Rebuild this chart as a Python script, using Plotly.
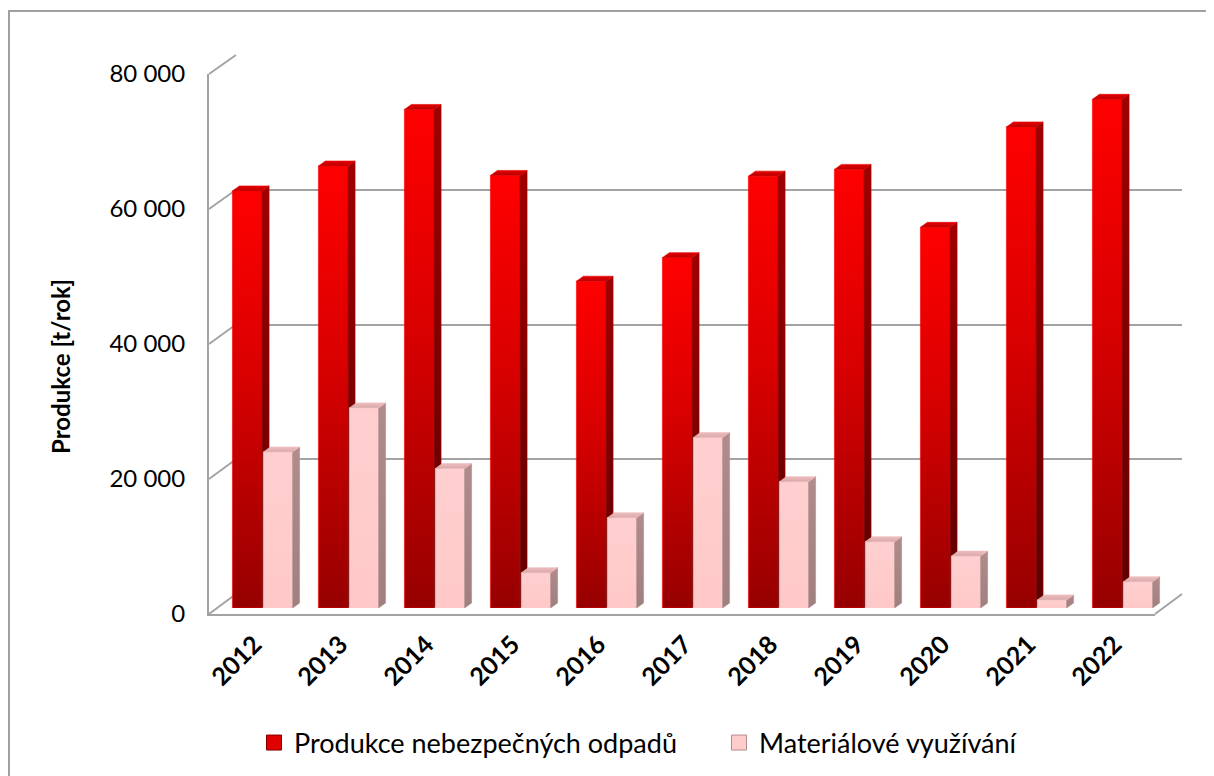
import plotly.graph_objects as go

# data
years = ["2012", "2013", "2014", "2015", "2016", "2017", "2018", "2019", "2020", "2021", "2022"]
produkce = [61900, 65600, 74000, 64200, 48500, 52000, 64100, 65100, 56500, 71400, 75500]
vyuzivani = [23150, 29700, 20700, 5250, 13400, 25300, 18750, 9850, 7700, 1200, 3900]
series_names = ["Produkce nebezpečných odpadů", "Materiálové využívání"]
y_ticks = [0, 20000, 40000, 60000, 80000]

W, H = 1214, 776
PAGE_PAD = 8  # default body margin of the html page
FONT = "Lato, 'Open Sans', sans-serif"
GRID = "#a3a3a3"


def px(x):
    return (x - PAGE_PAD) / W


def py(y):
    return 1 - (y - PAGE_PAD) / H


# pixel geometry of the fake 3D box
FRONT_L, FRONT_R, FRONT_0, FRONT_TOP = 209, 1155, 614, 74
BACK_L, BACK_R, BACK_0, BACK_TOP = 236, 1182, 594, 55
BAR_L, BAR_R, BAR_0, BAR_TOP = 219.5, 1165.5, 608, 69

cat_px = (BAR_R - BAR_L) / len(years)
val_px = (BAR_0 - BAR_TOP) / 80000
DX = 7 / cat_px   # side face depth in category units
DY = 5 / val_px   # side face rise in value units

fig = go.Figure()

# xy = back wall (drawn first), x2y2 = front axis, x3y3 = bars
fig.add_trace(go.Scatter(x=[None], y=[None], xaxis="x", yaxis="y", showlegend=False, hoverinfo="skip"))
fig.add_trace(go.Scatter(x=[None], y=[None], xaxis="x2", yaxis="y2", showlegend=False, hoverinfo="skip"))


def poly(xs, ys, scale):
    fig.add_trace(go.Scatter(
        x=xs, y=ys, xaxis="x3", yaxis="y3", mode="lines", fill="toself",
        line=dict(width=0.6, color=scale[-1][1]),
        fillgradient=dict(type="vertical", colorscale=scale),
        showlegend=False, hoverinfo="skip",
    ))


def bar3d(left, right, v, front, side, top):
    poly([left, right, right, left, left], [0, 0, v, v, 0], front)
    poly([right, right + DX, right + DX, right, right], [0, DY, v + DY, v, 0], side)
    poly([left, right, right + DX, left + DX, left], [v, v, v + DY, v + DY, v], top)


red_front = [[0, "#960000"], [0.55, "#d80000"], [1, "#ff0000"]]
red_side = [[0, "#5c0000"], [1, "#a00000"]]
red_top = [[0, "#b80000"], [1, "#e60000"]]
pink_front = [[0, "#ffc8c8"], [1, "#ffcfcf"]]
pink_side = [[0, "#a07f7f"], [1, "#b08c8c"]]
pink_top = [[0, "#d9a9a9"], [1, "#eebcbc"]]

for i, (a, b) in enumerate(zip(produkce, vyuzivani)):
    bar3d(i - 0.35, i - 0.005, a, red_front, red_side, red_top)
    bar3d(i + 0.01, i + 0.35, b, pink_front, pink_side, pink_top)

# legend entries
fig.add_trace(go.Scatter(x=[None], y=[None], xaxis="x3", yaxis="y3", mode="markers", name=series_names[0],
                         marker=dict(symbol="square", size=15, color="#e00000", line=dict(color="#800000", width=1))))
fig.add_trace(go.Scatter(x=[None], y=[None], xaxis="x3", yaxis="y3", mode="markers", name=series_names[1],
                         marker=dict(symbol="square", size=15, color="#ffcccc", line=dict(color="#b08c8c", width=1))))

hidden = dict(showgrid=False, zeroline=False, showticklabels=False, showline=False, ticks="", automargin=False)

fig.update_layout(
    width=W, height=H,
    margin=dict(l=0, r=0, t=0, b=0, autoexpand=False),
    paper_bgcolor="white", plot_bgcolor="rgba(0,0,0,0)",
    font=dict(family=FONT, color="black"),
    separators=", ",
    xaxis=dict(domain=[px(BACK_L), px(BACK_R)], range=[0, 1], anchor="y", **hidden),
    yaxis=dict(domain=[py(BACK_0), py(BACK_TOP)], range=[0, 80000], anchor="x",
               showgrid=True, gridcolor=GRID, gridwidth=2, tickvals=y_ticks, automargin=False,
               zeroline=False, showticklabels=False, showline=False, ticks=""),
    xaxis2=dict(domain=[px(FRONT_L), px(FRONT_R)], range=[0, 1], anchor="y2", automargin=False,
                showline=True, linecolor=GRID, linewidth=2,
                showgrid=False, zeroline=False, showticklabels=False, ticks=""),
    yaxis2=dict(domain=[py(FRONT_0), py(FRONT_TOP)], range=[0, 80000], anchor="x2", automargin=False,
                showline=True, linecolor=GRID, linewidth=2, showgrid=False, zeroline=False,
                tickvals=y_ticks, tickformat=",d", ticks="", ticklabelstandoff=17,
                tickfont=dict(size=24)),
    xaxis3=dict(domain=[px(BAR_L), px(BAR_R)], range=[-0.5, len(years) - 0.5], anchor="y3", automargin=False,
                tickvals=list(range(len(years))), ticktext=years, tickangle=-45,
                showgrid=False, zeroline=False, showline=False, ticks="",
                ticklabelstandoff=16, ticklabelshift=-8,
                tickfont=dict(size=25, weight="bold")),
    yaxis3=dict(domain=[py(BAR_0), py(BAR_TOP)], range=[0, 80000], anchor="x3", **hidden),
    legend=dict(orientation="h", x=px(254), xanchor="left", y=py(743), yanchor="middle",
                font=dict(size=27), entrywidth=420, entrywidthmode="pixels",
                itemwidth=30, bgcolor="rgba(0,0,0,0)"),
    annotations=[dict(text="<b>Produkce [t/rok]</b>", textangle=-90, x=px(60), y=py(367),
                      xanchor="center", yanchor="middle",
                      xref="paper", yref="paper", showarrow=False, font=dict(size=24))],
)

# oblique edges of the left wall and floor, plus the chart border
shapes = [dict(type="rect", xref="paper", yref="paper", x0=px(9), y0=py(11), x1=px(1240), y1=py(800),
               line=dict(color="#a0a0a0", width=2), layer="below")]
for v in y_ticks:
    shapes.append(dict(type="line", xref="paper", yref="paper",
                       x0=px(FRONT_L), y0=py(FRONT_0 - v * (FRONT_0 - FRONT_TOP) / 80000),
                       x1=px(BACK_L), y1=py(BACK_0 - v * (BACK_0 - BACK_TOP) / 80000),
                       line=dict(color=GRID, width=2), layer="below"))
shapes.append(dict(type="line", xref="paper", yref="paper", x0=px(FRONT_R), y0=py(FRONT_0),
                   x1=px(BACK_R), y1=py(BACK_0), line=dict(color=GRID, width=2), layer="below"))
fig.update_layout(shapes=shapes)

fig.write_html("out.html")
